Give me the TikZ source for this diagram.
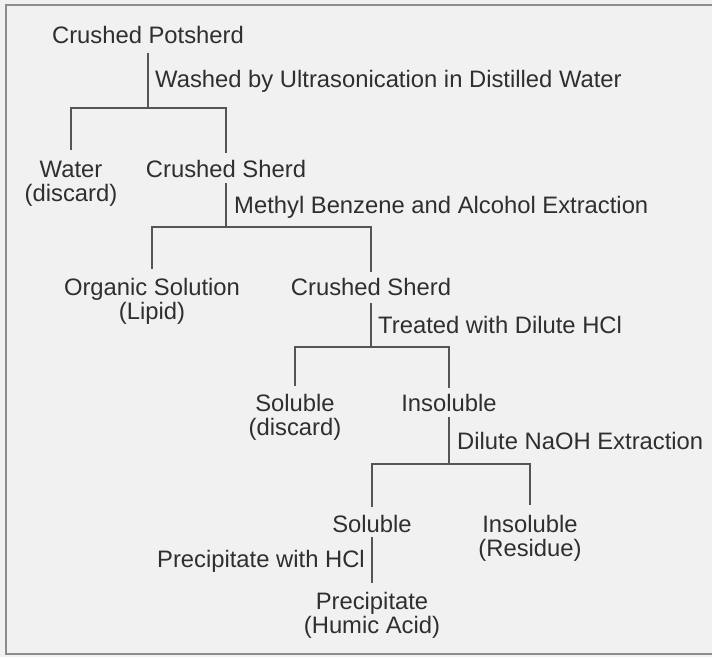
\documentclass[tikz,border=0pt]{standalone}
\usepackage{fontspec}
\setmainfont{Liberation Sans}
\usetikzlibrary{calc}

\definecolor{inkgray}{HTML}{2F2F2F}
\definecolor{linegray}{HTML}{555555}
\definecolor{framegray}{HTML}{8C8C8C}
\definecolor{paper}{HTML}{F1F1F1}

\begin{document}
\begin{tikzpicture}[x=1pt, y=-1pt,
    stage/.style={inner sep=0pt, anchor=base, align=center, text=inkgray, font=\fontsize{23.8}{24}\selectfont},
    treat/.style={inner sep=0pt, text=inkgray, font=\fontsize{23.8}{24}\selectfont},
    link/.style={draw=linegray, line width=1.3pt}]
        % Page and frame
        \fill[paper] (0,0) rectangle (712,657);
        \useasboundingbox (0,0) rectangle (712,657);
        \draw[framegray, line width=2pt] (712,4.5) -- (6,4.5) -- (6,654) -- (712,654);

        % Define junction coordinates
        \coordinate (j1) at (148,108);
        \coordinate (j2) at (226,227);
        \coordinate (j3) at (371,347);
        \coordinate (j4) at (449,464);

        % Draw the stages (two-line stages sit on their second line)
        \node[stage] (cp) at (148,43) {Crushed Potsherd};
        \node[stage] (water) at (71,201) {Water\\(discard)};
        \node[stage] (cs1) at (226,177) {Crushed Sherd};
        \node[stage] (lipid) at (152,319) {Organic Solution\\(Lipid)};
        \node[stage] (cs2) at (371,295) {Crushed Sherd};
        \node[stage] (sol1) at (295,435) {Soluble\\(discard)};
        \node[stage] (ins1) at (449,411) {Insoluble};
        \node[stage] (sol2) at (372,532) {Soluble};
        \node[stage] (ins2) at (530,556) {Insoluble\\(Residue)};
        \node[stage] (humic) at (372,633) {Precipitate\\(Humic Acid)};

        % Draw the treatments beside the stems
        \node[treat, anchor=base west] (wash) at (155,87) {Washed by Ultrasonication in Distilled Water};
        \node[treat, anchor=base west] (methyl) at (234,213) {Methyl Benzene and Alcohol Extraction};
        \node[treat, anchor=base west] (hcl) at (378,333) {Treated with Dilute HCl};
        \node[treat, anchor=base west] (naoh) at (457,449) {Dilute NaOH Extraction};
        \node[treat, anchor=base east] (precip) at (365,567) {Precipitate with HCl};

        % Draw the stems and the branches
        \draw[link, shorten <=10pt] (cp.south) -- (j1);
        \draw[link, shorten <=10pt, shorten >=7pt] (water.north) |- (j1) -| (cs1.north);
        \draw[link, shorten <=6pt] (cs1.south) -- (j2);
        \draw[link, shorten <=9pt, shorten >=6pt] (lipid.north) |- (j2) -| (cs2.north);
        \draw[link, shorten <=8pt] (cs2.south) -- (j3);
        \draw[link, shorten <=8pt, shorten >=6pt] (sol1.north) |- (j3) -| (ins1.north);
        \draw[link, shorten <=6pt] (ins1.south) -- (j4);
        \draw[link, shorten <=8pt, shorten >=10pt] (sol2.north) |- (j4) -| (ins2.north);
        \draw[link, shorten <=5pt, shorten >=9pt] (sol2.south) -- (humic.north);
\end{tikzpicture}
\end{document}
